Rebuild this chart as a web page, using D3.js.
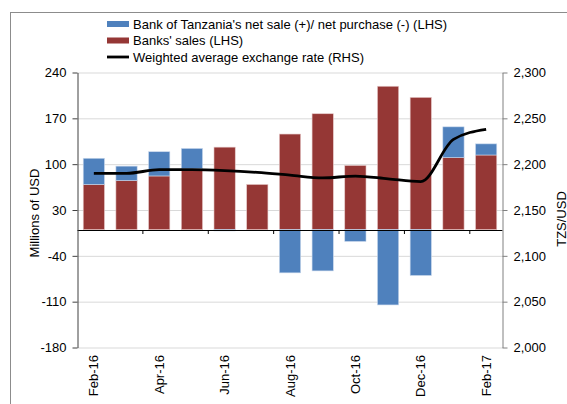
<!DOCTYPE html>
<html>
<head>
<meta charset="utf-8">
<script src="https://cdn.jsdelivr.net/npm/d3@7"></script>
<style>
  body { margin: 0; background: #fff; }
  svg { display: block; font-family: "Liberation Sans", Arial, sans-serif; }
  .grid line { stroke: #d9d9d9; }
  .grid path { display: none; }
</style>
</head>
<body>
<div id="chart"></div>
<script>
// months on the x axis
let months = ["Feb-16","Mar-16","Apr-16","May-16","Jun-16","Jul-16","Aug-16",
              "Sep-16","Oct-16","Nov-16","Dec-16","Jan-17","Feb-17"];
// Banks' sales (LHS), millions of USD
let banksSales = [69, 75, 82, 93, 126, 69, 146, 177, 98, 219, 202, 110, 114];
// Bank of Tanzania net sale (+) / net purchase (-) (LHS)
let botNet = [40, 22, 37, 31, -2, 0, -66, -63, -18, -115, -70, 47, 17];
// Weighted average exchange rate (RHS), TZS/USD
let rate = [2190, 2190, 2194, 2194, 2193, 2191, 2188, 2185, 2187, 2184, 2181, 2227, 2238];

let leftTicks = [-180, -110, -40, 30, 100, 170, 240];
let rightTicks = [2000, 2050, 2100, 2150, 2200, 2250, 2300];
let labelMonths = ["Feb-16","Apr-16","Jun-16","Aug-16","Oct-16","Dec-16","Feb-17"];

let svgWidth = 567, svgHeight = 404;
let plot = {left: 77.5, right: 502.5, top: 72.5, bottom: 347.5};

let svg = d3.select("#chart").append("svg")
  .attr("width", svgWidth)
  .attr("height", svgHeight);

// outer frame
svg.append("rect")
  .attr("x", 10.5).attr("y", 12.5)
  .attr("width", 600).attr("height", 500)
  .attr("fill", "none").attr("stroke", "#8c8c8c");

let x = d3.scaleBand().domain(months).range([plot.left, plot.right]).paddingInner(0.35).paddingOuter(0.175);
let yL = d3.scaleLinear().domain([-180, 240]).range([plot.bottom, plot.top]);
let yR = d3.scaleLinear().domain([2000, 2300]).range([plot.bottom, plot.top]);

// gridlines
svg.append("g").attr("class", "grid")
  .attr("transform", `translate(${plot.left},0)`)
  .call(d3.axisLeft(yL).tickValues(leftTicks).tickSize(-(plot.right - plot.left)).tickFormat(""));

// bars: banks' sales
svg.append("g").selectAll("rect")
  .data(months)
  .join("rect")
  .attr("x", d => x(d))
  .attr("width", x.bandwidth())
  .attr("y", (d, i) => yL(banksSales[i]))
  .attr("height", (d, i) => yL(0) - yL(banksSales[i]))
  .attr("fill", "#953735")
  .attr("stroke", "#e6c9c9").attr("stroke-width", 0.6);

// bars: BoT net sale / purchase (stacked on top if positive)
svg.append("g").selectAll("rect")
  .data(months)
  .join("rect")
  .attr("x", d => x(d))
  .attr("width", x.bandwidth())
  .attr("y", (d, i) => botNet[i] >= 0 ? yL(banksSales[i] + botNet[i]) : yL(0))
  .attr("height", (d, i) => botNet[i] >= 0 ? yL(banksSales[i]) - yL(banksSales[i] + botNet[i]) : yL(botNet[i]) - yL(0))
  .attr("fill", "#4f81bd")
  .attr("stroke", "#c9d8ec").attr("stroke-width", 0.6)
  .style("display", (d, i) => botNet[i] === 0 ? "none" : null);

// zero line with category ticks
let step = x.step();
svg.append("line")
  .attr("x1", plot.left).attr("x2", plot.right)
  .attr("y1", Math.round(yL(0)) + 0.5).attr("y2", Math.round(yL(0)) + 0.5)
  .attr("stroke", "#000");
svg.append("g").selectAll("line")
  .data(d3.range(2, 13, 2))
  .join("line")
  .attr("x1", d => plot.left + d * step).attr("x2", d => plot.left + d * step)
  .attr("y1", Math.round(yL(0)) + 0.5).attr("y2", Math.round(yL(0)) + 4)
  .attr("stroke", "#000");

// exchange rate line
let line = d3.line()
  .x((d, i) => x(months[i]) + x.bandwidth() / 2)
  .y(d => yR(d))
  .curve(d3.curveMonotoneX);
svg.append("path")
  .datum(rate)
  .attr("d", line)
  .attr("fill", "none")
  .attr("stroke", "#000")
  .attr("stroke-width", 2.8);

// left axis
let leftAxis = svg.append("g")
  .attr("transform", `translate(${plot.left},0)`)
  .call(d3.axisLeft(yL).tickValues(leftTicks).tickSize(5).tickSizeOuter(0).tickPadding(6).tickFormat(d => String(d)));
leftAxis.select(".domain").attr("stroke", "#404040");
leftAxis.selectAll(".tick line").attr("stroke", "#404040");
leftAxis.selectAll("text").attr("font-size", 13).attr("fill", "#000").attr("font-family", "Liberation Sans, Arial, sans-serif");

// right axis
let rightAxis = svg.append("g")
  .attr("transform", `translate(${plot.right},0)`)
  .call(d3.axisRight(yR).tickValues(rightTicks).tickSize(5).tickSizeOuter(0).tickPadding(6).tickFormat(d3.format(",")));
rightAxis.select(".domain").attr("stroke", "#808080");
rightAxis.selectAll(".tick line").attr("stroke", "#808080");
rightAxis.selectAll("text").attr("font-size", 13).attr("fill", "#000").attr("font-family", "Liberation Sans, Arial, sans-serif");

// x labels (every second month)
svg.append("g").selectAll("text")
  .data(labelMonths)
  .join("text")
  .attr("transform", d => `translate(${x(d) + x.bandwidth() / 2 + 4.5},355) rotate(-90)`)
  .attr("text-anchor", "end")
  .attr("font-size", 13)
  .text(d => d);

// axis titles
svg.append("text")
  .attr("transform", "translate(39,213) rotate(-90)")
  .attr("text-anchor", "middle")
  .attr("font-size", 13)
  .text("Millions of USD");

svg.append("text")
  .attr("transform", "translate(565.5,219) rotate(-90)")
  .attr("text-anchor", "middle")
  .attr("font-size", 13)
  .text("TZS/USD");

// legend
let legend = [
  {label: "Bank of Tanzania's net sale (+)/ net purchase (-) (LHS)", color: "#4f81bd", type: "bar"},
  {label: "Banks' sales (LHS)", color: "#953735", type: "bar"},
  {label: "Weighted average exchange rate (RHS)", color: "#000", type: "line"}
];
let lg = svg.append("g").selectAll("g")
  .data(legend)
  .join("g")
  .attr("transform", (d, i) => `translate(107,${24 + i * 16.5})`);
lg.filter(d => d.type === "bar").append("rect")
  .attr("x", 0).attr("y", -3).attr("width", 22).attr("height", 6)
  .attr("fill", d => d.color);
lg.filter(d => d.type === "line").append("line")
  .attr("x1", 0).attr("x2", 22).attr("y1", 0).attr("y2", 0)
  .attr("stroke", "#000").attr("stroke-width", 2.8);
lg.append("text")
  .attr("x", 26).attr("y", 4.5)
  .attr("font-size", 13)
  .text(d => d.label);
</script>
</body>
</html>
